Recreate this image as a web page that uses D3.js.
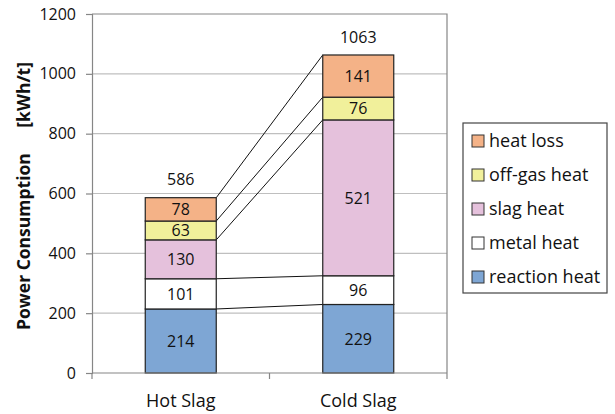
<!DOCTYPE html>
<html>
<head>
<meta charset="utf-8">
<script src="https://cdn.jsdelivr.net/npm/d3@7"></script>
<style>
  body { margin: 0; background: #fff; }
  text { font-family: "Open Sans", sans-serif; fill: #111; }
</style>
</head>
<body>
<svg id="chart"></svg>
<script>
// Data
const categories = ["Hot Slag", "Cold Slag"];
const series = ["reaction heat", "metal heat", "slag heat", "off-gas heat", "heat loss"];
const hotSlag = [214, 101, 130, 63, 78];
const coldSlag = [229, 96, 521, 76, 141];
const totals = [586, 1063];
const yTicks = [0, 200, 400, 600, 800, 1000, 1200];
const colors = ["#7ea6d4", "#ffffff", "#e5c1dc", "#f1f09b", "#f4b287"];

const W = 615, H = 414;
const margin = { top: 14, right: 168, bottom: 41, left: 92 };
const width = W - margin.left - margin.right;
const height = H - margin.top - margin.bottom;

const svgRoot = d3.select("#chart").attr("width", W).attr("height", H);
const svg = svgRoot.append("g").attr("transform", `translate(${margin.left},${margin.top})`);

const x = d3.scaleBand().domain(categories).range([0, width]).padding(0);
const barW = x.bandwidth() * 0.4;
const y = d3.scaleLinear().domain([0, 1200]).range([height, 0]);

// gridlines
svg.selectAll(".grid").data(yTicks.slice(1, -1)).enter().append("line")
  .attr("x1", 0).attr("x2", width)
  .attr("y1", d => y(d)).attr("y2", d => y(d))
  .attr("stroke", "#bfbfbf").attr("stroke-width", 1.2);

// plot border top/right
svg.append("path")
  .attr("d", `M0,${y(1200)}H${width}V${height}`)
  .attr("fill", "none").attr("stroke", "#868686").attr("stroke-width", 1.2);

// stacks
const rows = categories.map((c, j) => {
  const o = { cat: c };
  series.forEach((s, i) => o[s] = (j === 0 ? hotSlag : coldSlag)[i]);
  return o;
});
const stacked = d3.stack().keys(series)(rows);

// connector lines between the bars (top of each segment)
const hotRight = x("Hot Slag") + x.bandwidth() / 2 + barW / 2;
const coldLeft = x("Cold Slag") + x.bandwidth() / 2 - barW / 2;
stacked.forEach(layer => {
  svg.append("line")
    .attr("x1", hotRight).attr("y1", y(layer[0][1]))
    .attr("x2", coldLeft).attr("y2", y(layer[1][1]))
    .attr("stroke", "#111").attr("stroke-width", 1);
});

stacked.forEach((layer, i) => {
  const g = svg.append("g");
  g.selectAll("rect").data(layer).enter().append("rect")
    .attr("x", d => x(d.data.cat) + x.bandwidth() / 2 - barW / 2)
    .attr("y", d => y(d[1]))
    .attr("width", barW)
    .attr("height", d => y(d[0]) - y(d[1]))
    .attr("fill", colors[i])
    .attr("stroke", "#222").attr("stroke-width", 1.2);
  g.selectAll("text").data(layer).enter().append("text")
    .attr("x", d => x(d.data.cat) + x.bandwidth() / 2)
    .attr("y", d => (y(d[0]) + y(d[1])) / 2)
    .attr("dy", "0.36em")
    .attr("text-anchor", "middle")
    .style("font-size", "16px")
    .text(d => d.data[series[i]]);
});

// totals
svg.selectAll(".total").data(categories).enter().append("text")
  .attr("x", d => x(d) + x.bandwidth() / 2)
  .attr("y", (d, i) => y(totals[i]) - 18)
  .attr("dy", "0.36em")
  .attr("text-anchor", "middle")
  .style("font-size", "16px")
  .text((d, i) => totals[i]);

// y axis
const yAxis = svg.append("g").call(d3.axisLeft(y).tickValues(yTicks).tickFormat(d3.format("d")).tickSize(6).tickPadding(10));
yAxis.select(".domain").attr("stroke", "#868686").attr("stroke-width", 1.2);
yAxis.selectAll(".tick line").attr("stroke", "#868686").attr("stroke-width", 1.2);
yAxis.selectAll("text").style("font-size", "16px").style("font-family", "'Open Sans', sans-serif").attr("fill", "#111");

// x axis
const xAxisG = svg.append("g").attr("transform", `translate(0,${height})`);
xAxisG.append("line").attr("x1", 0).attr("x2", width).attr("stroke", "#868686").attr("stroke-width", 1.2);
xAxisG.selectAll(".xt").data([0, width / 2, width]).enter().append("line")
  .attr("x1", d => d).attr("x2", d => d).attr("y1", 0).attr("y2", 6)
  .attr("stroke", "#868686").attr("stroke-width", 1.2);
xAxisG.selectAll(".xl").data(categories).enter().append("text")
  .attr("x", d => x(d) + x.bandwidth() / 2)
  .attr("y", 34)
  .attr("text-anchor", "middle")
  .style("font-size", "18px")
  .text(d => d);

// y label, two parts with a wide gap as in the original
const yLab = svgRoot.append("g").attr("transform", "translate(30,0) rotate(-90)");
yLab.append("text").attr("x", -330).attr("y", 0)
  .attr("text-anchor", "start")
  .style("font-size", "17.5px").style("font-weight", "bold")
  .text("Power Consumption");
yLab.append("text").attr("x", -62).attr("y", 0)
  .attr("text-anchor", "end")
  .style("font-size", "17.5px").style("font-weight", "bold")
  .text("[kWh/t]");

// legend
const legend = svgRoot.append("g").attr("transform", "translate(463,123)");
legend.append("rect").attr("width", 144).attr("height", 170)
  .attr("fill", "#fff").attr("stroke", "#444").attr("stroke-width", 1.2);
const legItems = series.slice().reverse();
const legColors = colors.slice().reverse();
legItems.forEach((s, i) => {
  const gy = 18 + i * 34;
  legend.append("rect").attr("x", 9).attr("y", gy - 6).attr("width", 12).attr("height", 12)
    .attr("fill", legColors[i]).attr("stroke", "#333").attr("stroke-width", 1);
  legend.append("text").attr("x", 26).attr("y", gy).attr("dy", "0.36em")
    .style("font-size", "18px").text(s);
});
</script>
</body>
</html>
